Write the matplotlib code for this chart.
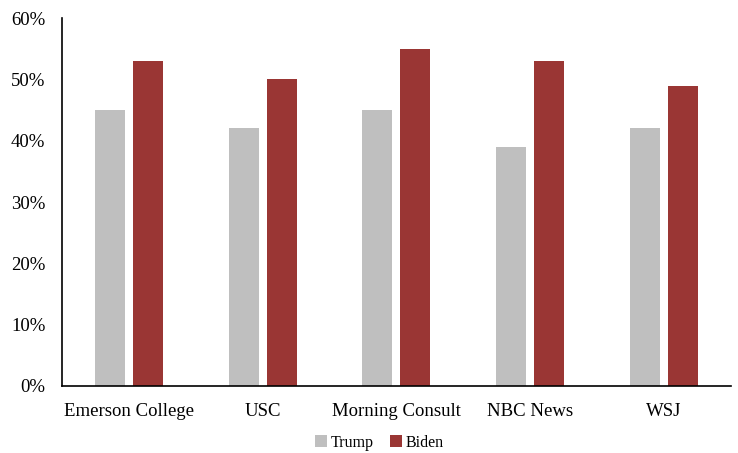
import matplotlib
matplotlib.use("Agg")
import matplotlib.pyplot as plt
import numpy as np
from matplotlib.ticker import FuncFormatter

categories = ["Emerson College", "USC", "Morning Consult", "NBC News", "WSJ"]
trump = [45, 42, 45, 39, 42]
biden = [53, 50, 55, 53, 49]

plt.rcParams['font.family'] = ['Liberation Serif', 'DejaVu Serif']

fig = plt.figure(figsize=(7.38, 4.53), dpi=100)
ax = fig.add_axes([0.084, 0.148, 0.906, 0.812])

x = np.arange(len(categories))
w = 0.224
gap = 0.06
ax.bar(x - (w + gap) / 2, trump, width=w, color='#BFBFBF', label='Trump')
ax.bar(x + (w + gap) / 2, biden, width=w, color='#9A3634', label='Biden')

ax.set_xlim(-0.5, len(categories) - 0.5)
ax.set_ylim(0, 60)
ax.set_yticks(range(0, 61, 10))
ax.yaxis.set_major_formatter(FuncFormatter(lambda v, p: f"{int(v)}%"))
ax.set_xticks(x)
ax.set_xticklabels(categories)
ax.tick_params(axis='both', length=0, labelsize=13.5, colors='black')
ax.tick_params(axis='y', pad=12)
ax.tick_params(axis='x', pad=12)
for s in ['top', 'right']:
    ax.spines[s].set_visible(False)
ax.spines['left'].set_linewidth(1.2)
ax.spines['bottom'].set_linewidth(1.2)

fig.legend(loc='center', bbox_to_anchor=(0.514, 0.023), ncol=2, frameon=False,
           fontsize=11.5, handlelength=0.75, handleheight=0.75, handletextpad=0.25,
           columnspacing=1.0)

fig.savefig("out.png", dpi=100)
